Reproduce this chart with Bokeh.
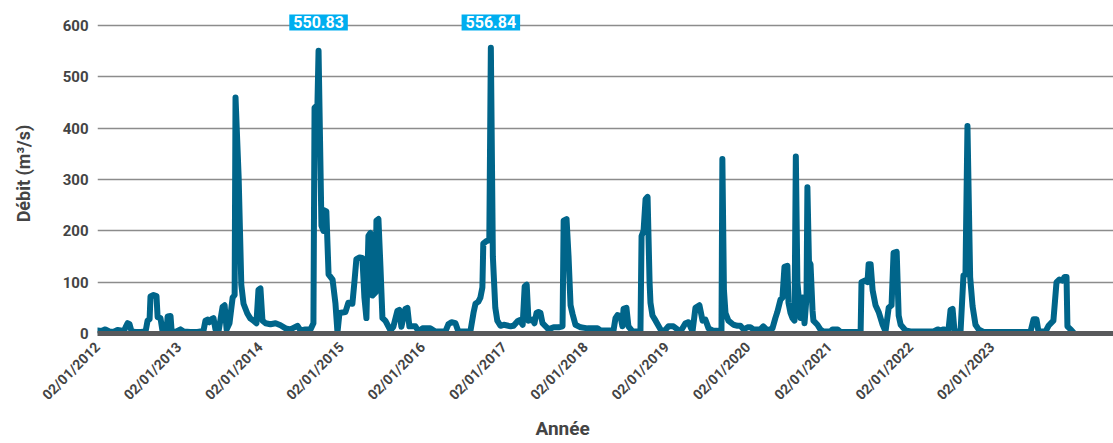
import math
import pandas as pd
from bokeh.plotting import figure
from bokeh.models import Range1d, FixedTicker, DatetimeTickFormatter, Label, Title
from bokeh.embed import file_html
from bokeh.resources import INLINE

dates = [
    "2012-01-02", "2012-01-20", "2012-02-06", "2012-02-24", "2012-03-14", "2012-04-01", "2012-04-15", "2012-04-28",
    "2012-05-07", "2012-05-16", "2012-05-25", "2012-06-03", "2012-06-21", "2012-07-14", "2012-08-05", "2012-08-14",
    "2012-08-23", "2012-08-27", "2012-09-10", "2012-09-23", "2012-09-28", "2012-10-11", "2012-10-20", "2012-11-07",
    "2012-11-12", "2012-11-25", "2012-11-30", "2012-12-17", "2012-12-31",
    "2013-01-09", "2013-01-23", "2013-02-22", "2013-03-26", "2013-04-22", "2013-05-01", "2013-05-10", "2013-05-19",
    "2013-05-28", "2013-06-06", "2013-06-15", "2013-06-29", "2013-07-17", "2013-07-26", "2013-08-04", "2013-08-17",
    "2013-08-31", "2013-09-09", "2013-09-13", "2013-09-27", "2013-10-03", "2013-10-09", "2013-10-19", "2013-11-05",
    "2013-11-19", "2013-12-03", "2013-12-16", "2013-12-25",
    "2014-01-03", "2014-01-12", "2014-01-26", "2014-02-17", "2014-03-12", "2014-04-03", "2014-04-26", "2014-05-18",
    "2014-06-18", "2014-07-02", "2014-07-24", "2014-08-16", "2014-08-29", "2014-09-03", "2014-09-16", "2014-09-21",
    "2014-10-04", "2014-10-13", "2014-10-17", "2014-10-26", "2014-11-05", "2014-11-23", "2014-12-06", "2014-12-15",
    "2014-12-24",
    "2015-01-20", "2015-02-02", "2015-02-20", "2015-03-01", "2015-03-10", "2015-03-24", "2015-04-06", "2015-04-15",
    "2015-04-24", "2015-05-03", "2015-05-12", "2015-05-21", "2015-06-04", "2015-06-08", "2015-06-17", "2015-06-26",
    "2015-07-05", "2015-07-18", "2015-08-10", "2015-08-23", "2015-09-10", "2015-09-19", "2015-09-28", "2015-10-16",
    "2015-10-25", "2015-11-03", "2015-11-30", "2015-12-14",
    "2016-01-01", "2016-02-05", "2016-02-28", "2016-04-13", "2016-04-26", "2016-05-10", "2016-05-28", "2016-06-10",
    "2016-07-12", "2016-08-03", "2016-08-17", "2016-08-26", "2016-09-08", "2016-09-17", "2016-09-26", "2016-09-30",
    "2016-10-14", "2016-10-27", "2016-11-03", "2016-11-12", "2016-11-23", "2016-12-02", "2016-12-16", "2016-12-31",
    "2017-01-31", "2017-02-13", "2017-03-03", "2017-03-12", "2017-03-26", "2017-04-04", "2017-04-13", "2017-04-21",
    "2017-05-09", "2017-05-18", "2017-05-27", "2017-06-05", "2017-06-14", "2017-06-23", "2017-07-07", "2017-07-20",
    "2017-08-12", "2017-09-03", "2017-09-21", "2017-09-26", "2017-10-09", "2017-10-18", "2017-10-27", "2017-11-05",
    "2017-11-18", "2017-12-11",
    "2018-01-11", "2018-02-25", "2018-03-11", "2018-05-08", "2018-05-17", "2018-05-26", "2018-06-08", "2018-06-17",
    "2018-06-22", "2018-07-05", "2018-07-14", "2018-08-01", "2018-09-06", "2018-09-11", "2018-09-20", "2018-09-29",
    "2018-10-08", "2018-10-17", "2018-10-21", "2018-10-30", "2018-11-13", "2018-12-05", "2018-12-19",
    "2019-01-10", "2019-02-01", "2019-02-19", "2019-03-05", "2019-03-27", "2019-04-10", "2019-04-28", "2019-05-11",
    "2019-05-29", "2019-06-12", "2019-06-25", "2019-07-09", "2019-07-27", "2019-08-31", "2019-09-05", "2019-09-09",
    "2019-09-16", "2019-09-23", "2019-10-06", "2019-10-29", "2019-11-16", "2019-11-29", "2019-12-13", "2019-12-31",
    "2020-01-13", "2020-01-27", "2020-02-27", "2020-03-11", "2020-03-29", "2020-04-21", "2020-05-04", "2020-05-13",
    "2020-05-27", "2020-06-05", "2020-06-14", "2020-06-27", "2020-07-02", "2020-07-11", "2020-07-20", "2020-07-29",
    "2020-08-04", "2020-08-11", "2020-08-25", "2020-09-03", "2020-09-12", "2020-09-21", "2020-09-25", "2020-10-02",
    "2020-10-09", "2020-10-18", "2020-10-22", "2020-11-09", "2020-11-22", "2020-12-06",
    "2021-01-07", "2021-01-16", "2021-02-08", "2021-02-21", "2021-05-22", "2021-05-26", "2021-06-09", "2021-06-22",
    "2021-06-27", "2021-07-06", "2021-07-15", "2021-07-28", "2021-08-11", "2021-08-29", "2021-09-11", "2021-09-25",
    "2021-10-08", "2021-10-17", "2021-10-31", "2021-11-09", "2021-11-18", "2021-12-10",
    "2022-01-01", "2022-04-15", "2022-05-03", "2022-05-16", "2022-05-30", "2022-06-12", "2022-06-21", "2022-06-30",
    "2022-07-09", "2022-07-18", "2022-08-14", "2022-08-27", "2022-09-05", "2022-09-14", "2022-09-26", "2022-10-07",
    "2022-10-20", "2022-11-03", "2022-11-25",
    "2023-06-24", "2023-07-08", "2023-07-21", "2023-07-30", "2023-08-31", "2023-09-13", "2023-10-05", "2023-10-19",
    "2023-11-01", "2023-11-15", "2023-11-24", "2023-12-03", "2023-12-07", "2023-12-21", "2024-01-03",
]

debit = [
    6, 5, 8, 4, 3, 7, 6, 3,
    12, 20, 18, 4, 3, 3, 4, 25,
    28, 72, 75, 73, 32, 30, 5, 4,
    33, 34, 5, 3, 6,
    8, 4, 3, 3, 5, 25, 27, 22,
    28, 30, 8, 5, 52, 55, 8, 20,
    70, 75, 460, 305, 200, 95, 58, 39,
    29, 25, 20, 85,
    88, 25, 20, 18, 20, 16, 10, 8,
    15, 6, 8, 8, 20, 440, 445, 550.83,
    210, 200, 240, 238, 115, 105, 58, 2,
    40,
    42, 60, 58, 100, 145, 148, 147, 70,
    30, 190, 196, 74, 80, 220, 223, 131,
    30, 25, 6, 13, 44, 46, 13, 48,
    50, 14, 14, 4,
    10, 10, 4, 4, 18, 22, 20, 4,
    4, 4, 40, 58, 62, 70, 90, 175,
    180, 182, 556.84, 150, 50, 25, 15, 17,
    14, 15, 24, 26, 17, 92, 95, 25,
    27, 20, 40, 42, 40, 20, 14, 8,
    12, 12, 14, 220, 223, 150, 55, 38,
    17, 12,
    10, 10, 6, 6, 30, 36, 34, 14,
    48, 50, 14, 4, 4, 190, 200, 262,
    266, 100, 60, 35, 25, 8, 3,
    14, 14, 8, 4, 20, 22, 4, 50,
    55, 25, 27, 10, 6, 5, 5, 340,
    85, 40, 25, 17, 15, 15, 8, 12,
    12, 8, 8, 14, 6, 10, 30, 42,
    66, 70, 130, 132, 60, 40, 30, 25,
    345, 100, 30, 70, 20, 70, 285, 140,
    135, 45, 25, 17, 8, 4,
    4, 8, 8, 3, 3, 100, 103, 100,
    135, 135, 84, 55, 42, 17, 4, 50,
    55, 157, 159, 35, 17, 6,
    4, 4, 8, 6, 8, 6, 8, 46,
    48, 4, 4, 113, 115, 404, 110, 53,
    17, 8, 3,
    3, 28, 28, 4, 4, 15, 25, 100,
    105, 103, 110, 110, 14, 8, 2,
]

tick_dates = ["2012-01-02", "2013-01-02", "2014-01-02", "2015-01-02", "2016-01-02", "2017-01-02",
              "2018-01-02", "2019-01-02", "2020-01-02", "2021-01-02", "2022-01-02", "2023-01-02"]
y_ticks = [0, 100, 200, 300, 400, 500, 600]
peak_values = [550.83, 556.84]

x_start, x_end = "2012-01-02", "2024-07-01"
x_title, y_title = "Année", "Débit (m³/s)"

FONT = "Roboto"
LINE_COLOR = "#00658A"
TEXT_COLOR = "#444444"

xs = pd.to_datetime(dates)
to_ms = lambda d: pd.Timestamp(d).value / 1e6

p = figure(width=1113, height=443, output_backend="svg", toolbar_location=None,
           x_axis_type="datetime",
           x_range=Range1d(to_ms(x_start), to_ms(x_end)),
           y_range=Range1d(0, 623.4),
           min_border_left=97, min_border_right=0, min_border_top=13, min_border_bottom=110)
p.outline_line_color = None
p.background_fill_color = "white"

p.line(xs, debit, line_width=6, line_color=LINE_COLOR, line_join="round", line_cap="round")

# axes
xa = p.xaxis[0]
xa.ticker = FixedTicker(ticks=[to_ms(d) for d in tick_dates])
fmt = "%d/%m/%Y"
xa.formatter = DatetimeTickFormatter(milliseconds=fmt, seconds=fmt, minsec=fmt, minutes=fmt, hourmin=fmt,
                                     hours=fmt, days=fmt, months=fmt, years=fmt)
xa.major_label_orientation = math.pi / 4
xa.major_tick_line_color = None
xa.minor_tick_line_color = None
xa.axis_line_color = "#58595B"
xa.axis_line_width = 5
xa.major_label_text_font = FONT
xa.major_label_text_font_size = "14px"
xa.major_label_text_font_style = "bold"
xa.major_label_text_color = TEXT_COLOR
xa.major_label_standoff = 5

ya = p.yaxis[0]
ya.ticker = FixedTicker(ticks=y_ticks)
ya.major_tick_line_color = None
ya.minor_tick_line_color = None
ya.axis_line_color = None
ya.major_label_text_font = FONT
ya.major_label_text_font_size = "15px"
ya.major_label_text_font_style = "bold"
ya.major_label_text_color = TEXT_COLOR
ya.major_label_standoff = 3
ya.axis_label = y_title
ya.axis_label_text_font = FONT
ya.axis_label_text_font_size = "18px"
ya.axis_label_text_font_style = "bold"
ya.axis_label_text_color = TEXT_COLOR
ya.axis_label_standoff = 26

# x-axis title under the axis, left of the frame's centre as in the source
p.add_layout(Title(text=x_title, align="left", offset=438, text_font=FONT, text_font_size="19px",
                   text_font_style="bold", text_color=TEXT_COLOR, standoff=6), "below")

p.xgrid.grid_line_color = None
p.ygrid.ticker = FixedTicker(ticks=y_ticks[1:])
p.ygrid.grid_line_color = "#8C8C8C"
p.ygrid.grid_line_width = 1.5

for v in peak_values:
    i = debit.index(v)
    p.add_layout(Label(x=xs[i].value / 1e6, y=606, text=f"{v:.2f}", text_align="center",
                       text_baseline="middle", text_color="white", text_font=FONT,
                       text_font_size="16px", text_font_style="bold",
                       background_fill_color="#00AEEF", padding=(4, 2)))

open("out.html", "w").write(file_html(p, INLINE))
